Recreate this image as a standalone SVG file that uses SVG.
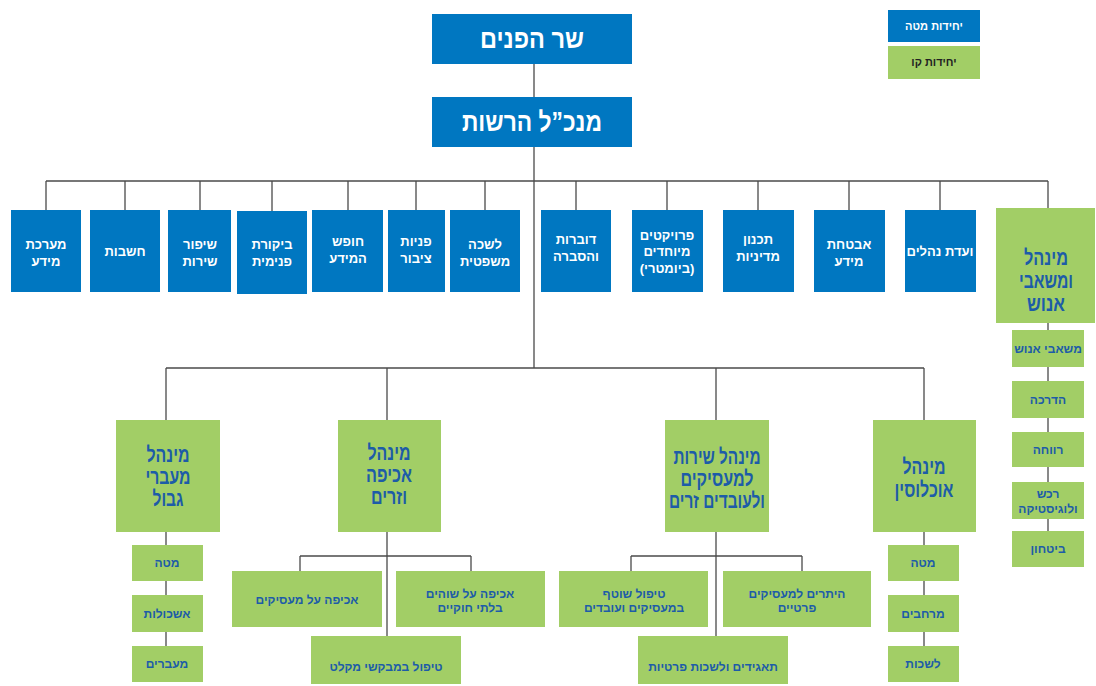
<svg xmlns="http://www.w3.org/2000/svg" width="1096" height="686" viewBox="0 0 1096 686">
<style>
text{font-family:"Liberation Sans","DejaVu Sans",sans-serif;font-weight:bold;text-anchor:middle;direction:rtl}
.b{fill:#0077c1}
.g{fill:#a2ce66}
.tw{fill:#ffffff}
.tb{fill:#1d5ca8}
.top{font-size:27px}
.s13{font-size:13px}
.big{font-size:21px}
.sub{font-size:12px}
.leg{font-size:11px}
#connectors line{stroke:#4a4a4a;stroke-width:1.3}
</style>
<rect width="1096" height="686" fill="#ffffff"/>
<g id="connectors">
<line x1="534" y1="64" x2="534" y2="97"/>
<line x1="534" y1="147" x2="534" y2="368"/>
<line x1="46" y1="181" x2="1048" y2="181"/>
<line x1="46" y1="181" x2="46" y2="210"/>
<line x1="125" y1="181" x2="125" y2="210"/>
<line x1="200" y1="181" x2="200" y2="210"/>
<line x1="272" y1="181" x2="272" y2="211"/>
<line x1="348" y1="181" x2="348" y2="210"/>
<line x1="416" y1="181" x2="416" y2="210"/>
<line x1="485" y1="181" x2="485" y2="210"/>
<line x1="576" y1="181" x2="576" y2="210"/>
<line x1="667" y1="181" x2="667" y2="210"/>
<line x1="758" y1="181" x2="758" y2="210"/>
<line x1="849" y1="181" x2="849" y2="210"/>
<line x1="940" y1="181" x2="940" y2="210"/>
<line x1="1048" y1="181" x2="1048" y2="208"/>
<line x1="1048" y1="323" x2="1048" y2="531"/>
<line x1="166" y1="368" x2="924" y2="368"/>
<line x1="166" y1="368" x2="166" y2="420"/>
<line x1="387" y1="368" x2="387" y2="420"/>
<line x1="716" y1="368" x2="716" y2="420"/>
<line x1="924" y1="368" x2="924" y2="420"/>
<line x1="166" y1="532" x2="166" y2="646"/>
<line x1="924" y1="532" x2="924" y2="646"/>
<line x1="387" y1="532" x2="387" y2="636"/>
<line x1="300" y1="556" x2="471" y2="556"/>
<line x1="300" y1="556" x2="300" y2="571"/>
<line x1="471" y1="556" x2="471" y2="571"/>
<line x1="716" y1="532" x2="716" y2="636"/>
<line x1="631" y1="556" x2="802" y2="556"/>
<line x1="631" y1="556" x2="631" y2="571"/>
<line x1="802" y1="556" x2="802" y2="571"/>
</g>

<g id="legend-staff"><rect class="b" x="888" y="10" width="92" height="32"/><text class="tw leg" x="934" y="30">יחידות מטה</text></g>
<g id="legend-line"><rect class="g" x="888" y="46" width="92" height="33"/><text class="leg" fill="#222" x="934" y="66">יחידות קו</text></g>

<g id="minister"><rect class="b" x="432" y="14" width="200" height="50"/><text class="tw top" x="532" y="48" textLength="104" lengthAdjust="spacingAndGlyphs">שר הפנים</text></g>
<g id="director"><rect class="b" x="432" y="97" width="200" height="50"/><text class="tw top" x="532" y="131" textLength="140" lengthAdjust="spacingAndGlyphs">מנכ”ל הרשות</text></g>

<g id="info-systems"><rect class="b" x="11" y="210" width="70" height="82"/><text class="tw s13" x="46" y="249">מערכת</text><text class="tw s13" x="46" y="266">מידע</text></g>
<g id="accounting"><rect class="b" x="90" y="210" width="70" height="82"/><text class="tw s13" x="125" y="256">חשבות</text></g>
<g id="service-improvement"><rect class="b" x="168" y="210" width="63" height="82"/><text class="tw s13" x="200" y="249">שיפור</text><text class="tw s13" x="200" y="266">שירות</text></g>
<g id="internal-audit"><rect class="b" x="237" y="211" width="70" height="83"/><text class="tw s13" x="272" y="249">ביקורת</text><text class="tw s13" x="272" y="266">פנימית</text></g>
<g id="freedom-info"><rect class="b" x="312" y="210" width="71" height="82"/><text class="tw s13" x="348" y="246">חופש</text><text class="tw s13" x="348" y="263">המידע</text></g>
<g id="public-inquiries"><rect class="b" x="388" y="210" width="57" height="82"/><text class="tw s13" x="416" y="246">פניות</text><text class="tw s13" x="416" y="263">ציבור</text></g>
<g id="legal-office"><rect class="b" x="450" y="210" width="70" height="82"/><text class="tw s13" x="485" y="249">לשכה</text><text class="tw s13" x="485" y="266">משפטית</text></g>
<g id="spokesperson"><rect class="b" x="541" y="210" width="70" height="82"/><text class="tw s13" x="576" y="244">דוברות</text><text class="tw s13" x="576" y="261">והסברה</text></g>
<g id="special-projects"><rect class="b" x="632" y="210" width="71" height="82"/><text class="tw s13" x="667" y="240">פרויקטים</text><text class="tw s13" x="667" y="256">מיוחדים</text><text class="tw s13" x="667" y="273">(ביומטרי)</text></g>
<g id="policy-planning"><rect class="b" x="723" y="210" width="71" height="82"/><text class="tw s13" x="758" y="244">תכנון</text><text class="tw s13" x="758" y="261">מדיניות</text></g>
<g id="info-security"><rect class="b" x="814" y="210" width="71" height="82"/><text class="tw s13" x="849" y="249">אבטחת</text><text class="tw s13" x="849" y="266">מידע</text></g>
<g id="procedures-committee"><rect class="b" x="905" y="210" width="71" height="82"/><text class="tw s13" x="940" y="256">ועדת נהלים</text></g>

<g id="hr-admin"><rect class="g" x="996" y="208" width="99" height="115"/><text class="tb big" x="1046" y="265" textLength="44" lengthAdjust="spacingAndGlyphs">מינהל</text><text class="tb big" x="1046" y="288" textLength="54" lengthAdjust="spacingAndGlyphs">ומשאבי</text><text class="tb big" x="1046" y="311" textLength="38" lengthAdjust="spacingAndGlyphs">אנוש</text></g>
<g id="hr"><rect class="g" x="1012" y="330" width="72" height="37"/><text class="tb sub" x="1048" y="353">משאבי אנוש</text></g>
<g id="training"><rect class="g" x="1012" y="381" width="72" height="37"/><text class="tb sub" x="1048" y="404">הדרכה</text></g>
<g id="welfare"><rect class="g" x="1012" y="432" width="72" height="35"/><text class="tb sub" x="1048" y="454">רווחה</text></g>
<g id="procurement"><rect class="g" x="1012" y="482" width="72" height="37"/><text class="tb sub" x="1048" y="498">רכש</text><text class="tb sub" x="1048" y="513">ולוגיסטיקה</text></g>
<g id="security"><rect class="g" x="1012" y="531" width="72" height="36"/><text class="tb sub" x="1048" y="553">ביטחון</text></g>

<g id="border-crossings"><rect class="g" x="116" y="420" width="104" height="112"/><text class="tb big" x="168" y="462" textLength="43" lengthAdjust="spacingAndGlyphs">מינהל</text><text class="tb big" x="168" y="484" textLength="45" lengthAdjust="spacingAndGlyphs">מעברי</text><text class="tb big" x="168" y="506" textLength="31" lengthAdjust="spacingAndGlyphs">גבול</text></g>
<g id="bc-staff"><rect class="g" x="132" y="545" width="71" height="36"/><text class="tb sub" x="167" y="567">מטה</text></g>
<g id="bc-clusters"><rect class="g" x="132" y="595" width="71" height="37"/><text class="tb sub" x="167" y="618">אשכולות</text></g>
<g id="bc-crossings"><rect class="g" x="132" y="646" width="71" height="36"/><text class="tb sub" x="167" y="668">מעברים</text></g>

<g id="enforcement"><rect class="g" x="338" y="420" width="103" height="112"/><text class="tb big" x="389" y="460" textLength="43" lengthAdjust="spacingAndGlyphs">מינהל</text><text class="tb big" x="389" y="482" textLength="46" lengthAdjust="spacingAndGlyphs">אכיפה</text><text class="tb big" x="389" y="504" textLength="36" lengthAdjust="spacingAndGlyphs">וזרים</text></g>
<g id="enf-employers"><rect class="g" x="232" y="571" width="150" height="56"/><text class="tb sub" x="307" y="604">אכיפה על מעסיקים</text></g>
<g id="enf-illegal"><rect class="g" x="396" y="571" width="149" height="56"/><text class="tb sub" x="470" y="598">אכיפה על שוהים</text><text class="tb sub" x="470" y="612">בלתי חוקיים</text></g>
<g id="asylum"><rect class="g" x="311" y="636" width="150" height="48"/><text class="tb sub" x="386" y="671">טיפול במבקשי מקלט</text></g>

<g id="employers-service"><rect class="g" x="665" y="420" width="104" height="112"/><text class="tb big" x="717" y="464" textLength="87" lengthAdjust="spacingAndGlyphs">מינהל שירות</text><text class="tb big" x="717" y="486" textLength="73" lengthAdjust="spacingAndGlyphs">למעסיקים</text><text class="tb big" x="717" y="508" textLength="96" lengthAdjust="spacingAndGlyphs">ולעובדים זרים</text></g>
<g id="ongoing-care"><rect class="g" x="559" y="571" width="149" height="56"/><text class="tb sub" x="634" y="598">טיפול שוטף</text><text class="tb sub" x="634" y="612">במעסיקים ועובדים</text></g>
<g id="private-permits"><rect class="g" x="723" y="571" width="148" height="56"/><text class="tb sub" x="797" y="598">היתרים למעסיקים</text><text class="tb sub" x="797" y="612">פרטיים</text></g>
<g id="corporations"><rect class="g" x="638" y="636" width="150" height="48"/><text class="tb sub" x="713" y="671">תאגידים ולשכות פרטיות</text></g>

<g id="population"><rect class="g" x="873" y="420" width="103" height="112"/><text class="tb big" x="924" y="474" textLength="43" lengthAdjust="spacingAndGlyphs">מינהל</text><text class="tb big" x="924" y="497" textLength="59" lengthAdjust="spacingAndGlyphs">אוכלוסין</text></g>
<g id="pop-staff"><rect class="g" x="888" y="545" width="71" height="36"/><text class="tb sub" x="923" y="567">מטה</text></g>
<g id="pop-districts"><rect class="g" x="888" y="595" width="71" height="37"/><text class="tb sub" x="923" y="618">מרחבים</text></g>
<g id="pop-offices"><rect class="g" x="888" y="646" width="71" height="36"/><text class="tb sub" x="923" y="668">לשכות</text></g>
</svg>
